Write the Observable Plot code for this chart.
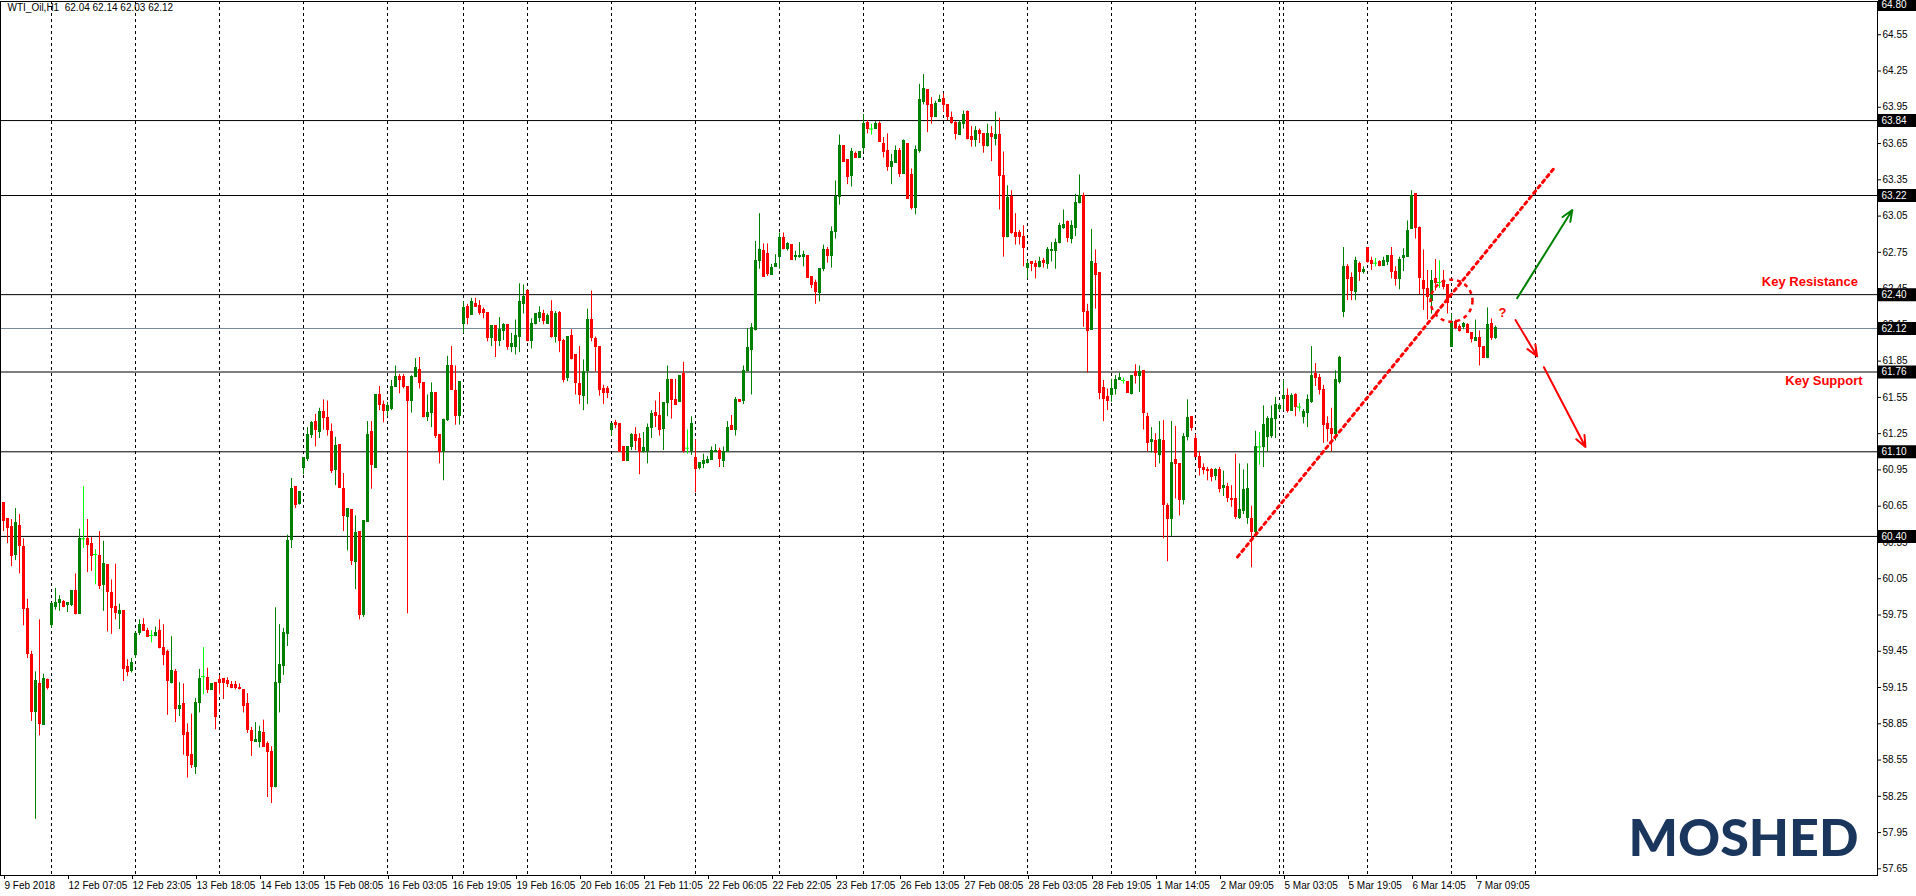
<!DOCTYPE html>
<html><head><meta charset="utf-8">
<script src="https://cdn.jsdelivr.net/npm/d3@7"></script>
<script src="https://cdn.jsdelivr.net/npm/@observablehq/plot@0.6"></script>
<style>
html,body{margin:0;padding:0;background:#fff;}
#chart{width:1916px;height:896px;overflow:hidden;}
svg{display:block;}
</style></head><body><div id="chart"></div>
<script>
const symbol = "WTI_Oil,H1";

const open = [
60.68,60.54,60.48,60.25,60.49,60.31,59.80,59.42,58.95,59.18,
58.84,59.21,59.67,59.82,59.85,59.86,59.83,59.83,59.95,59.76,
60.38,60.38,60.34,60.25,60.24,60.00,60.16,59.93,59.82,59.76,
59.78,59.32,59.29,59.42,59.60,59.67,59.62,59.58,59.58,59.62,
59.48,59.44,59.19,59.28,58.97,59.01,58.77,58.59,58.49,59.02,
59.24,59.23,59.13,59.19,59.21,59.22,59.20,59.17,59.17,59.15,
59.13,59.01,58.79,58.70,58.70,58.77,58.68,58.62,58.33,59.19,
59.33,59.59,60.37,60.81,60.67,60.97,61.04,61.24,61.35,61.26,
61.43,61.38,61.26,60.95,61.16,60.79,60.56,60.62,60.19,60.44,
59.75,60.52,61.26,60.97,61.57,61.49,61.44,61.45,61.64,61.72,
61.72,61.64,61.52,61.72,61.78,61.67,61.39,61.42,61.59,61.24,
61.10,61.36,61.81,61.60,61.40,62.16,62.30,62.23,62.32,62.31,
62.27,62.25,62.04,62.14,62.02,62.10,62.15,61.97,61.97,62.05,
62.32,62.43,62.02,62.16,62.21,62.24,62.16,62.26,62.05,62.25,
62.02,61.71,62.06,61.90,61.66,61.56,61.77,62.19,62.03,61.97,
61.62,61.62,61.28,61.34,61.33,61.14,61.02,61.14,61.24,61.21,
61.10,61.11,61.30,61.42,61.40,61.29,61.50,61.69,61.53,61.51,
61.74,61.13,61.11,61.05,60.97,61.00,61.01,61.03,61.10,61.11,
61.02,61.10,61.31,61.28,61.53,61.52,61.77,61.94,62.11,62.68,
62.76,62.74,62.56,62.63,62.71,62.87,62.78,62.81,62.71,62.71,
62.71,62.72,62.55,62.50,62.41,62.61,62.77,62.72,62.92,63.21,
63.63,63.51,63.38,63.56,63.53,63.61,63.82,63.77,63.77,63.81,
63.65,63.59,63.46,63.49,63.59,63.40,63.65,63.39,63.12,63.59,
63.99,64.09,63.97,63.87,63.99,64.02,63.97,63.86,63.82,63.72,
63.81,63.91,63.70,63.68,63.75,63.73,63.63,63.73,63.69,63.72,
63.38,62.88,63.21,62.91,62.91,62.88,62.62,62.67,62.65,62.63,
62.68,62.65,62.76,62.76,62.83,62.95,63.00,62.86,62.95,63.16,
63.22,62.26,62.11,62.65,62.58,61.63,61.55,61.57,61.62,61.69,
61.69,61.68,61.58,61.76,61.73,61.77,61.39,61.18,61.19,61.07,
61.19,60.65,60.54,61.03,61.00,60.70,61.22,61.39,61.21,61.06,
60.97,60.95,60.95,60.90,60.95,60.80,60.81,60.71,60.71,60.55,
60.61,60.55,60.54,60.44,61.14,61.14,61.22,61.23,61.37,61.45,
61.54,61.56,61.44,61.57,61.47,61.39,61.42,61.51,61.74,61.71,
61.61,61.33,61.29,61.25,61.68,62.26,62.63,62.54,62.42,62.65,
62.59,62.79,62.68,62.66,62.67,62.64,62.67,62.72,62.59,62.53,
62.70,62.71,62.94,63.23,62.95,62.51,62.45,62.35,62.53,62.50,
62.51,62.48,61.97,62.17,62.13,62.13,62.15,62.08,62.02,62.04,
61.97,61.88,62.16,62.04];

const high = [
60.68,60.54,60.54,60.63,60.58,60.38,59.88,59.45,59.28,59.71,
59.26,59.22,59.85,59.97,59.91,59.87,59.85,59.95,60.09,60.46,
60.81,60.54,60.39,60.29,60.44,60.36,60.16,60.04,60.17,59.84,
59.78,59.38,59.39,59.61,59.71,59.72,59.64,59.62,59.65,59.71,
59.67,59.46,59.57,59.30,59.19,59.18,58.85,58.93,59.06,59.30,
59.48,59.31,59.18,59.19,59.25,59.22,59.23,59.20,59.20,59.18,
59.13,59.10,58.82,58.86,58.83,58.88,58.70,58.66,59.81,59.67,
59.64,60.41,60.88,60.81,60.77,61.05,61.30,61.35,61.41,61.46,
61.53,61.52,61.33,61.22,61.16,60.92,60.63,60.62,60.57,60.44,
60.53,61.35,61.35,61.57,61.64,61.52,61.51,61.69,61.81,61.74,
61.74,61.64,61.73,61.87,61.88,61.67,61.57,61.67,61.59,61.24,
61.37,61.89,61.97,61.81,61.68,62.34,62.32,62.37,62.37,62.35,
62.29,62.25,62.14,62.14,62.21,62.16,62.15,62.08,62.19,62.49,
62.48,62.44,62.20,62.24,62.30,62.27,62.24,62.35,62.26,62.26,
62.03,62.05,62.11,61.90,61.97,61.86,62.28,62.43,62.05,61.97,
61.65,61.64,61.33,61.36,61.33,61.14,61.14,61.25,61.30,61.25,
61.26,61.33,61.44,61.52,61.59,61.50,61.81,61.70,61.70,61.73,
61.84,61.28,61.39,61.20,61.01,61.08,61.06,61.14,61.16,61.13,
61.14,61.35,61.40,61.55,61.53,61.81,62.12,62.16,62.84,63.07,
62.82,62.82,62.65,62.73,62.91,62.91,62.83,62.81,62.76,62.83,
62.76,62.72,62.55,62.52,62.61,62.81,62.79,62.96,63.34,63.72,
63.63,63.51,63.61,63.58,63.58,63.89,63.84,63.81,63.83,63.83,
63.70,63.73,63.56,63.63,63.61,63.68,63.65,63.44,63.63,64.14,
64.22,64.09,64.03,64.00,64.05,64.06,63.97,63.91,63.83,63.84,
63.92,63.92,63.79,63.79,63.77,63.73,63.81,63.79,63.91,63.86,
63.58,63.30,63.26,63.07,62.93,62.97,62.68,62.67,62.68,62.71,
62.70,62.79,62.83,62.86,62.99,63.10,63.01,63.01,63.23,63.39,
63.24,62.32,62.94,62.77,62.58,61.69,61.62,61.70,61.73,61.75,
61.71,61.68,61.73,61.82,61.81,61.77,61.42,61.30,61.25,61.35,
61.36,60.67,61.35,61.31,61.00,61.25,61.53,61.39,61.24,61.10,
61.00,60.97,60.96,60.96,60.97,60.94,60.84,60.82,61.08,61.00,
60.95,61.00,60.65,61.27,61.26,61.48,61.39,61.48,61.55,61.50,
61.69,61.62,61.58,61.58,61.50,61.45,61.57,61.97,61.83,61.74,
61.65,61.39,61.46,61.77,61.89,62.79,62.65,62.58,62.71,62.67,
62.63,62.79,62.71,62.70,62.68,62.71,62.72,62.79,62.63,62.71,
62.78,63.01,63.26,63.23,62.96,62.77,62.60,62.60,62.69,62.68,
62.60,62.48,62.24,62.19,62.15,62.17,62.16,62.08,62.19,62.10,
61.97,62.29,62.20,62.14];

const low = [
60.44,60.34,60.15,60.20,60.09,59.66,59.39,58.87,58.06,58.75,
58.84,59.13,59.64,59.79,59.78,59.81,59.77,59.82,59.75,59.76,
60.30,60.10,60.11,60.00,59.96,59.78,59.61,59.59,59.71,59.63,
59.20,59.24,59.27,59.39,59.58,59.62,59.57,59.52,59.57,59.47,
59.33,58.92,59.18,58.86,58.91,58.59,58.40,58.48,58.43,58.94,
59.09,59.10,59.13,58.80,59.09,59.05,59.15,59.14,59.13,59.13,
58.94,58.77,58.58,58.70,58.65,58.66,58.24,58.19,58.32,58.94,
59.25,59.49,60.30,60.63,60.66,60.91,61.02,61.21,61.14,61.21,
61.28,61.23,60.92,60.82,60.80,60.44,60.28,60.16,59.96,59.71,
59.73,60.52,60.79,60.97,61.44,61.34,61.39,61.44,61.64,61.58,
61.62,59.76,61.42,61.72,61.62,61.38,61.35,61.30,61.21,61.00,
60.86,61.35,61.61,61.32,61.32,62.08,62.15,62.23,62.30,62.23,
62.20,62.01,61.97,61.88,61.97,62.02,61.94,61.92,61.90,61.92,
62.24,62.01,61.95,62.15,62.17,62.15,62.16,62.04,62.00,61.92,
61.67,61.68,61.86,61.57,61.49,61.44,61.49,62.01,61.76,61.56,
61.49,61.54,61.23,61.29,61.10,61.02,61.02,61.11,61.11,60.91,
61.09,61.00,61.21,61.30,61.23,61.11,61.39,61.37,61.49,61.51,
61.09,61.08,61.07,60.76,60.95,60.96,61.00,61.03,61.10,60.97,
60.97,61.10,61.28,61.23,61.51,61.49,61.76,61.57,62.10,62.61,
62.55,62.55,62.56,62.63,62.61,62.77,62.76,62.69,62.68,62.70,
62.63,62.54,62.45,62.32,62.34,62.59,62.66,62.62,62.86,63.14,
63.50,63.31,63.29,63.53,63.53,63.58,63.73,63.72,63.77,63.66,
63.53,63.42,63.31,63.49,63.37,63.40,63.19,63.10,63.06,63.57,
63.97,63.74,63.81,63.87,63.99,63.91,63.84,63.81,63.68,63.72,
63.77,63.68,63.62,63.62,63.65,63.57,63.62,63.50,63.63,63.10,
62.71,62.87,62.90,62.81,62.81,62.63,62.53,62.59,62.53,62.62,
62.62,62.61,62.67,62.61,62.82,62.94,62.83,62.82,62.88,63.15,
62.13,61.75,62.11,62.28,61.53,61.35,61.44,61.51,61.57,61.69,
61.66,61.59,61.57,61.66,61.59,61.28,61.10,61.09,60.97,61.00,
60.38,60.19,60.40,60.71,60.57,60.66,61.19,61.27,61.06,60.90,
60.91,60.86,60.85,60.86,60.76,60.73,60.68,60.64,60.54,60.54,
60.58,60.50,60.14,60.39,60.99,60.97,61.10,61.21,61.21,61.43,
61.44,61.42,61.44,61.39,61.43,61.33,61.30,61.50,61.64,61.57,
61.17,61.18,61.10,61.19,61.66,62.21,62.35,62.35,62.35,62.51,
62.57,62.66,62.60,62.63,62.63,62.64,62.64,62.53,62.47,62.44,
62.59,62.71,62.94,62.86,62.40,62.27,62.19,62.24,62.43,62.45,
62.44,62.24,61.97,62.11,62.09,62.11,62.08,62.00,62.02,61.81,
61.88,61.87,62.02,62.03];

const close = [
60.53,60.47,60.24,60.51,60.32,59.80,59.43,58.95,59.20,58.85,
59.22,59.15,59.84,59.85,59.87,59.82,59.85,59.95,59.76,60.38,
60.38,60.33,60.24,60.25,59.99,60.17,59.94,59.81,59.77,59.78,
59.30,59.28,59.35,59.59,59.67,59.62,59.57,59.58,59.60,59.48,
59.42,59.20,59.29,58.97,59.00,58.76,58.58,58.51,59.02,59.22,
59.24,59.13,59.18,58.91,59.19,59.19,59.18,59.15,59.15,59.14,
59.00,58.80,58.71,58.72,58.78,58.66,58.62,58.33,59.19,59.34,
59.60,60.36,60.79,60.66,60.77,61.05,61.24,61.34,61.28,61.43,
61.38,61.28,60.94,61.15,60.80,60.57,60.63,60.20,60.43,59.75,
60.53,61.24,60.99,61.57,61.49,61.44,61.48,61.64,61.72,61.69,
61.64,61.52,61.72,61.79,61.67,61.39,61.42,61.59,61.23,61.10,
61.36,61.81,61.61,61.40,61.68,62.29,62.21,62.34,62.30,62.25,
62.25,62.04,62.14,62.02,62.11,62.15,61.97,61.99,62.06,62.34,
62.38,62.02,62.16,62.24,62.25,62.18,62.22,62.05,62.24,62.02,
61.69,62.05,61.87,61.67,61.57,61.76,62.19,62.04,61.97,61.61,
61.59,61.59,61.33,61.32,61.10,61.02,61.14,61.24,61.19,61.10,
61.13,61.30,61.41,61.40,61.28,61.50,61.69,61.53,61.49,61.73,
61.11,61.13,61.33,60.96,61.01,61.02,61.03,61.11,61.11,61.04,
61.10,61.30,61.28,61.53,61.51,61.77,61.96,62.12,62.68,62.77,
62.55,62.57,62.62,62.65,62.87,62.78,62.82,62.69,62.72,62.72,
62.73,62.54,62.48,62.42,62.61,62.77,62.72,62.92,63.21,63.63,
63.50,63.37,63.58,63.53,63.58,63.81,63.77,63.77,63.81,63.66,
63.58,63.46,63.50,63.59,63.40,63.67,63.19,63.12,63.60,64.01,
64.10,63.97,63.87,63.98,64.01,63.97,63.87,63.82,63.73,63.82,
63.89,63.69,63.68,63.75,63.73,63.63,63.73,63.70,63.72,63.38,
62.88,63.20,62.91,62.88,62.88,62.79,62.65,62.65,62.63,62.67,
62.66,62.77,62.77,62.83,62.97,62.98,62.87,62.97,63.16,63.22,
62.26,62.10,62.67,62.56,61.59,61.54,61.52,61.62,61.69,61.71,
61.69,61.59,61.73,61.73,61.76,61.42,61.17,61.20,61.09,61.20,
60.66,60.54,61.01,61.00,60.70,61.22,61.38,61.30,61.06,60.97,
60.95,60.94,60.89,60.95,60.79,60.82,60.72,60.70,60.56,60.62,
60.78,60.79,60.44,61.14,61.14,61.32,61.37,61.37,61.49,61.48,
61.56,61.44,61.56,61.47,61.47,61.43,61.53,61.73,61.71,61.61,
61.32,61.29,61.25,61.69,61.88,62.63,62.53,62.43,62.68,62.59,
62.60,62.67,62.65,62.66,62.64,62.68,62.72,62.59,62.53,62.69,
62.72,62.93,63.22,62.95,62.54,62.45,62.38,62.51,62.50,62.50,
62.46,62.33,62.17,62.12,62.10,62.16,62.08,62.03,62.04,61.97,
61.88,62.15,62.04,62.12];

// time-axis labels (one every 16 hourly bars) and day separators (bar index)
const xLabelIndex = [0,16,32,48,64,80,96,112,128,144,160,176,192,208,224,240,256,272,288,304,320,336,352,368];
const xLabels = ["9 Feb 2018","12 Feb 07:05","12 Feb 23:05","13 Feb 18:05","14 Feb 13:05","15 Feb 08:05",
  "16 Feb 03:05","16 Feb 19:05","19 Feb 16:05","20 Feb 16:05","21 Feb 11:05","22 Feb 06:05",
  "22 Feb 22:05","23 Feb 17:05","26 Feb 13:05","27 Feb 08:05","28 Feb 03:05","28 Feb 19:05",
  "1 Mar 14:05","2 Mar 09:05","5 Mar 03:05","5 Mar 19:05","6 Mar 14:05","7 Mar 09:05"];
const daySeparators = [12,33,54,75,96,115,131,152,173,194,215,235,256,277,298,319,320,341,362,383];

// price scale
const priceTicks = [64.55,64.25,63.95,63.65,63.35,63.05,62.75,62.45,62.15,61.85,61.55,61.25,
  60.95,60.65,60.35,60.05,59.75,59.45,59.15,58.85,58.55,58.25,57.95,57.65];
const keyLevels = [63.84,63.22,62.40,61.76,61.10,60.40];
const scaleTop = 64.80;
const lastPrice = 62.12;

// drawn annotations (bar index, price)
const trendLine = [{i:308.5,p:60.23},{i:387.75,p:63.45}];
const breakCircle = [{i:362,p:62.35}];
const question = [{i:374.75,p:62.25,t:"?"}];
const scenarioArrows = [
  {i1:378.4,p1:62.37,i2:392.2,p2:63.10,color:"#008000"},
  {i1:378.0,p1:62.19,i2:383.4,p2:61.89,color:"#ff0000"},
  {i1:385.1,p1:61.80,i2:395.5,p2:61.14,color:"#ff0000"}
];
const levelNotes = [
  {i:451.6,p:62.51,t:"Key Resistance"},
  {i:455.1,p:61.69,t:"Key Support"}
];
const logoText = "MOSHED";

// ---------- build ----------
const bars = open.map((o,i)=>({i,o,h:high[i],l:low[i],c:close[i]}));
const isDoji = d => Math.abs(d.o-d.c) < 0.005;
const col = d => isDoji(d) ? "#00ff00" : (d.c > d.o ? "#008000" : "#ff0000");
const last = bars[bars.length-1];
const header = symbol + "\u00a0\u00a0" + [last.o,last.h,last.l,last.c].map(v=>v.toFixed(2)).join(" ");

const W = 1916, H = 896, mL = 0, mR = 39, mT = 1, mB = 21;
const boxed = [scaleTop, ...keyLevels, lastPrice];

const chart = Plot.plot({
  width: W, height: H,
  marginLeft: mL, marginRight: mR, marginTop: mT, marginBottom: mB,
  style: {fontFamily: "'Liberation Sans', Arial, sans-serif", fontSize: "10px", background: "#fff", color: "#000", overflow: "visible"},
  x: {type: "linear", domain: [-0.75, 468.5], axis: null},
  y: {domain: [57.595, 64.825], axis: null},
  color: {type: "identity"},
  marks: [
    Plot.ruleX(daySeparators, {x: d => d, stroke: "#000", strokeDasharray: "3,3"}),
    Plot.ruleY(keyLevels, {y: d => d, stroke: "#000"}),
    Plot.ruleY([lastPrice], {y: d => d, stroke: "#778899"}),
    Plot.ruleX(bars, {x: "i", y1: "l", y2: "h", stroke: col}),
    Plot.rect(bars.filter(d => !isDoji(d)), {
      x1: d => d.i - 0.375, x2: d => d.i + 0.375,
      y1: d => Math.min(d.o, d.c), y2: d => Math.max(d.o, d.c),
      fill: col, insetTop: -0.5, insetBottom: -0.5, shapeRendering: "crispEdges"
    }),
    Plot.ruleY(bars.filter(isDoji), {y: "c", x1: d => d.i - 0.5, x2: d => d.i + 0.5, stroke: "#00ff00"}),
    Plot.frame({stroke: "#000"}),
    Plot.axisX({ticks: xLabelIndex, tickFormat: d => xLabels[xLabelIndex.indexOf(d)], tickSize: 4, tickPadding: 2,
      textAnchor: "start", dx: 1, label: null, fontSize: 10}),
    Plot.axisY({anchor: "right", ticks: priceTicks, tickFormat: d => d.toFixed(2), tickSize: 3, tickPadding: 2,
      label: null, fontSize: 10}),
    Plot.ruleY(boxed, {y: d => d, insetLeft: W - mR + 1, insetRight: -mR, stroke: "#000", strokeWidth: 13}),
    Plot.text(boxed, {y: d => d, text: d => d.toFixed(2), frameAnchor: "right", dx: 4, textAnchor: "start", fill: "#fff", fontSize: 10}),
    // annotations
    Plot.line(trendLine, {x: "i", y: "p", stroke: "#ff0000", strokeWidth: 3, strokeDasharray: "3,4"}),
    Plot.dot(breakCircle, {x: "i", y: "p", r: 21, stroke: "#ff0000", strokeWidth: 2.5, strokeDasharray: "4,4", fill: "none"}),
    Plot.arrow(scenarioArrows, {x1: "i1", y1: "p1", x2: "i2", y2: "p2", stroke: "color", strokeWidth: 2, headLength: 9, headAngle: 45}),
    Plot.text(question, {x: "i", y: "p", text: "t", fill: "#ff0000", fontWeight: "bold", fontSize: 13}),
    Plot.text(levelNotes, {x: "i", y: "p", text: "t", fill: "#ff0000", fontWeight: "bold", fontSize: 13}),
    Plot.text([header], {text: d => d, frameAnchor: "top-left", dx: 7, dy: 2, textAnchor: "start", lineAnchor: "top", fontSize: 10, fill: "#000"}),
    Plot.text([logoText], {text: d => d, frameAnchor: "bottom-right", dx: -19, dy: -20, textAnchor: "end", lineAnchor: "bottom",
      fontSize: 52, fontWeight: 900, fill: "#1b365d", fontFamily: "Lato, Roboto, sans-serif"})
  ]
});
document.getElementById("chart").appendChild(chart);
</script>
</body></html>
